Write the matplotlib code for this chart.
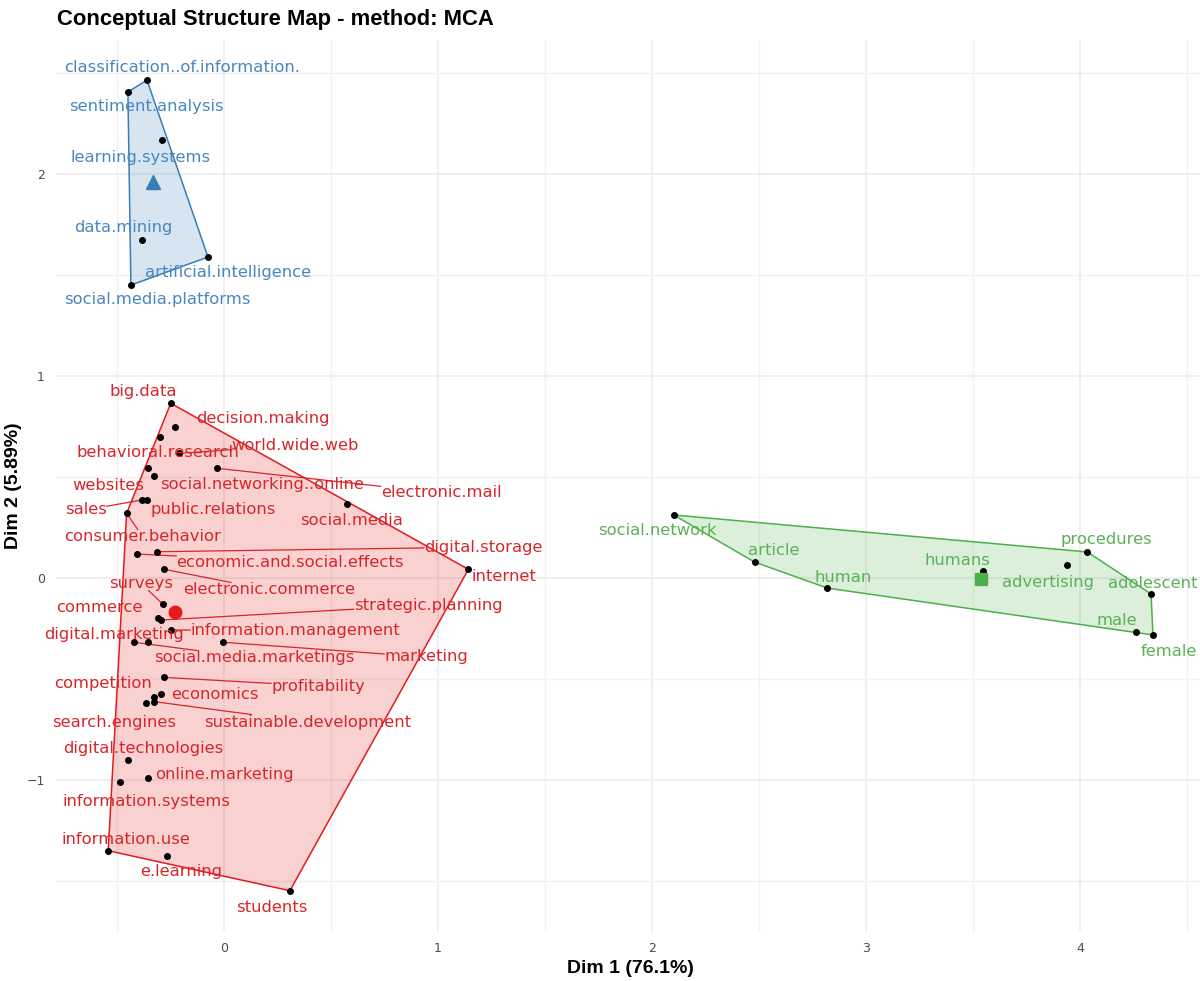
import matplotlib
matplotlib.use("Agg")
import matplotlib.pyplot as plt
import numpy as np
from matplotlib.lines import Line2D

# ---------------- data ----------------
blue_terms = ["classification..of.information.", "sentiment.analysis", "learning.systems",
              "data.mining", "artificial.intelligence", "social.media.platforms"]
blue_x = [-0.360, -0.449, -0.290, -0.383, -0.075, -0.435]
blue_y = [2.465, 2.406, 2.168, 1.673, 1.589, 1.450]

red_terms = ["big.data", "decision.making", "behavioral.research", "world.wide.web", "websites",
             "social.networking..online", "electronic.mail", "sales", "public.relations",
             "consumer.behavior", "social.media", "economic.and.social.effects", "digital.storage",
             "internet", "electronic.commerce", "surveys", "commerce", "strategic.planning",
             "information.management", "social.media.marketings", "digital.marketing", "marketing",
             "profitability", "economics", "competition", "search.engines",
             "sustainable.development", "digital.technologies", "online.marketing",
             "information.systems", "information.use", "e.learning", "students"]
red_x = [-0.249, -0.229, -0.299, -0.209, -0.357, -0.327, -0.031, -0.385, -0.361, -0.455,
         0.576, -0.408, -0.314, 1.142, -0.279, -0.286, -0.307, -0.294, -0.249, -0.421,
         -0.357, -0.006, -0.279, -0.296, -0.327, -0.364, -0.327, -0.450, -0.357, -0.486,
         -0.541, -0.265, 0.308]
red_y = [0.865, 0.746, 0.700, 0.617, 0.546, 0.505, 0.543, 0.386, 0.386, 0.320,
         0.365, 0.119, 0.130, 0.043, 0.043, -0.130, -0.200, -0.208, -0.257, -0.318,
         -0.318, -0.318, -0.492, -0.574, -0.591, -0.617, -0.612, -0.901, -0.992, -1.008,
         -1.350, -1.375, -1.548]

green_terms = ["social.network", "article", "human", "humans", "advertising", "procedures",
               "adolescent", "male", "female"]
green_x = [2.101, 2.479, 2.820, 3.547, 3.937, 4.034, 4.332, 4.262, 4.341]
green_y = [0.312, 0.079, -0.050, 0.035, 0.064, 0.129, -0.079, -0.267, -0.282]

x_label = "Dim 1 (76.1%)"
y_label = "Dim 2 (5.89%)"
title = "Conceptual Structure Map - method: MCA"

# ---------------- layout (repelled label positions, data units) ----------------
LABEL_POS = {
    "classification..of.information.": (-0.196, 2.525),
    "sentiment.analysis": (-0.364, 2.332),
    "learning.systems": (-0.388, 2.084),
    "data.mining": (-0.472, 1.733),
    "artificial.intelligence": (0.019, 1.510),
    "social.media.platforms": (-0.313, 1.381),
    "big.data": (-0.379, 0.921),
    "decision.making": (0.182, 0.792),
    "world.wide.web": (0.332, 0.658),
    "behavioral.research": (-0.308, 0.619),
    "websites": (-0.542, 0.460),
    "social.networking..online": (0.178, 0.465),
    "electronic.mail": (1.014, 0.421),
    "sales": (-0.645, 0.337),
    "public.relations": (-0.051, 0.337),
    "social.media": (0.598, 0.287),
    "consumer.behavior": (-0.379, 0.203),
    "digital.storage": (1.210, 0.153),
    "economic.and.social.effects": (0.308, 0.079),
    "internet": (1.308, 0.005),
    "surveys": (-0.388, -0.025),
    "electronic.commerce": (0.210, -0.059),
    "commerce": (-0.584, -0.144),
    "strategic.planning": (0.953, -0.134),
    "digital.marketing": (-0.514, -0.282),
    "information.management": (0.332, -0.262),
    "social.media.marketings": (0.140, -0.396),
    "marketing": (0.944, -0.391),
    "competition": (-0.565, -0.520),
    "profitability": (0.439, -0.535),
    "economics": (-0.042, -0.579),
    "search.engines": (-0.514, -0.713),
    "sustainable.development": (0.393, -0.713),
    "digital.technologies": (-0.379, -0.842),
    "online.marketing": (0.000, -0.975),
    "information.systems": (-0.364, -1.104),
    "information.use": (-0.458, -1.297),
    "e.learning": (-0.201, -1.455),
    "students": (0.224, -1.629),
    "social.network": (2.023, 0.233),
    "article": (2.570, 0.134),
    "human": (2.893, 0.000),
    "humans": (3.425, 0.089),
    "advertising": (3.850, -0.020),
    "procedures": (4.121, 0.193),
    "adolescent": (4.341, -0.025),
    "male": (4.173, -0.208),
    "female": (4.416, -0.366),
}
# labels that got a leader segment in the repelled layout
WITH_SEGMENT = {"world.wide.web", "electronic.mail", "sales", "consumer.behavior",
                "economic.and.social.effects", "digital.storage", "electronic.commerce",
                "surveys", "strategic.planning", "information.management",
                "social.media.marketings", "marketing", "profitability",
                "sustainable.development"}

BLUE = "#377EB8"
RED = "#E41A1C"
GREEN = "#4DAF4A"
LABEL_COL = {"blue": "#4A86BF", "red": "#D7262B", "green": "#5BB058"}


def convex_hull(xs, ys):
    pts = sorted(set(zip(xs, ys)))
    if len(pts) < 3:
        return pts

    def cross(o, a, b):
        return (a[0] - o[0]) * (b[1] - o[1]) - (a[1] - o[1]) * (b[0] - o[0])
    lower, upper = [], []
    for p in pts:
        while len(lower) >= 2 and cross(lower[-2], lower[-1], p) <= 0:
            lower.pop()
        lower.append(p)
    for p in reversed(pts):
        while len(upper) >= 2 and cross(upper[-2], upper[-1], p) <= 0:
            upper.pop()
        upper.append(p)
    return lower[:-1] + upper[:-1]


W, H = 1200, 981
fig = plt.figure(figsize=(W / 100, H / 100), dpi=100)

all_x = blue_x + red_x + green_x
all_y = blue_y + red_y + green_y
xr = max(all_x) - min(all_x)
yr = max(all_y) - min(all_y)
xlim = (min(all_x) - 0.05 * xr, max(all_x) + 0.05 * xr)
ylim = (min(all_y) - 0.05 * yr, max(all_y) + 0.05 * yr)

# pixel mapping: x=0 at 224px, 214 px/unit ; y=0 at 578px, 202 px/unit
px_left = 224 + xlim[0] * 214
px_right = 224 + xlim[1] * 214
py_top = 578 - ylim[1] * 202
py_bot = 578 - ylim[0] * 202
ax = fig.add_axes([px_left / W, 1 - py_bot / H, (px_right - px_left) / W, (py_bot - py_top) / H])
ax.set_xlim(*xlim)
ax.set_ylim(*ylim)

for s in ax.spines.values():
    s.set_visible(False)
ax.set_xticks([0, 1, 2, 3, 4])
ax.set_yticks([-1, 0, 1, 2])
ax.set_xticks(np.arange(-0.5, 4.6, 1.0), minor=True)
ax.set_yticks(np.arange(-1.5, 2.6, 1.0), minor=True)
ax.grid(True, which="major", color="#EBEBEB", lw=1.1, zorder=0)
ax.grid(True, which="minor", color="#F2F2F2", lw=1.0, zorder=0)
ax.set_axisbelow(True)
ax.tick_params(which="both", length=0)
ax.tick_params(axis="both", labelsize=9, labelcolor="#4D4D4D", pad=8)
for t in ax.get_xticklabels() + ax.get_yticklabels():
    t.set_fontfamily("DejaVu Sans")

ax.set_xlabel(x_label, fontsize=14, fontweight="bold", family="Liberation Sans", labelpad=3)
ax.set_ylabel(y_label, fontsize=14, fontweight="bold", family="Liberation Sans", labelpad=3)
fig.text(57 / W, 1 - 19 / H, title, fontsize=15.8, fontweight="bold", family="Liberation Sans",
         ha="left", va="center")

clusters = [
    (blue_terms, blue_x, blue_y, BLUE, LABEL_COL["blue"], "^", 10),
    (red_terms, red_x, red_y, RED, LABEL_COL["red"], "o", 9),
    (green_terms, green_x, green_y, GREEN, LABEL_COL["green"], "s", 8),
]

texts = []
for terms, xs, ys, col, lcol, mk, ms in clusters:
    hull = convex_hull(xs, ys)
    hx = [p[0] for p in hull] + [hull[0][0]]
    hy = [p[1] for p in hull] + [hull[0][1]]
    ax.fill(hx, hy, color=col, alpha=0.2, lw=0, zorder=2)
    ax.plot(hx, hy, color=col, lw=1.1, zorder=3)
    ax.plot(xs, ys, "o", color="black", ms=4, zorder=5)
    ax.plot([np.mean(xs)], [np.mean(ys)], mk, color=col, ms=ms, zorder=6)
    for term, x, y in zip(terms, xs, ys):
        lx, ly = LABEL_POS[term]
        t = ax.text(lx, ly, term, color=lcol, fontsize=11.8, family="DejaVu Sans",
                    ha="center", va="center", zorder=7)
        texts.append((t, term, x, y, lcol))

# repel-style segments from point to label box
fig.canvas.draw()
renderer = fig.canvas.get_renderer()
inv = ax.transData.inverted()
for t, term, x, y, lcol in texts:
    if term not in WITH_SEGMENT:
        continue
    bb = t.get_window_extent(renderer=renderer)
    px, py = ax.transData.transform((x, y))
    cx, cy = (bb.x0 + bb.x1) / 2, (bb.y0 + bb.y1) / 2
    vx, vy = px - cx, py - cy
    hw, hh = bb.width / 2, bb.height / 2
    tx = hw / abs(vx) if vx != 0 else np.inf
    ty = hh / abs(vy) if vy != 0 else np.inf
    te = min(tx, ty)
    qx, qy = cx + vx * te, cy + vy * te
    (ax0, ay0) = inv.transform((px, py))
    (ax1, ay1) = inv.transform((qx, qy))
    ax.add_line(Line2D([ax0, ax1], [ay0, ay1], color=lcol, lw=0.9, zorder=4))

fig.savefig("out.png", dpi=100)
